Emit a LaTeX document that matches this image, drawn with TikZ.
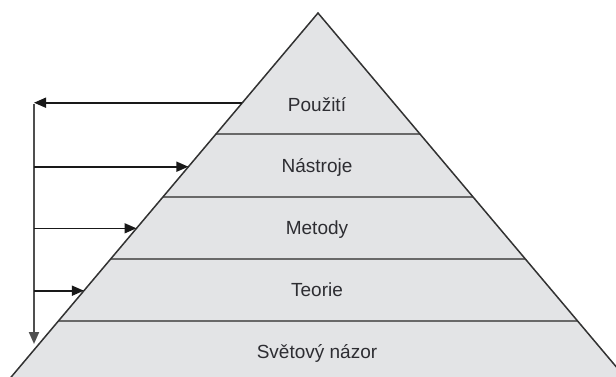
\documentclass[tikz,border=0pt]{standalone}
\usepackage{fontspec}
\setmainfont{Liberation Sans}
\usetikzlibrary{arrows.meta}
\definecolor{layerfill}{RGB}{227,228,230}
\definecolor{edgecol}{RGB}{50,50,50}
\definecolor{bandline}{RGB}{105,105,105}
\definecolor{labelcol}{RGB}{45,45,50}
\definecolor{arrowcol}{RGB}{25,25,25}
\begin{document}
\begin{tikzpicture}[x=1pt,y=-1pt,
  layerlabel/.style={font=\fontsize{19}{22}\selectfont, text=labelcol, anchor=base, inner sep=0pt},
  separator/.style={draw=bandline, line width=2.4pt},
  tip/.style={-{Triangle[length=12pt,width=10pt]}},
  flow/.style={draw=arrowcol, line width=1.6pt, tip},
  spine/.style={draw=bandline!75!black, line width=2pt, tip}]
  \useasboundingbox (0,0) rectangle (616,376);
  \clip (0,0) rectangle (616,376);

  % pyramid outline
  \coordinate (apex) at (318,13);
  \coordinate (baseL) at (-8.2,400);
  \coordinate (baseR) at (644.2,400);
  \fill[layerfill] (apex) -- (baseR) -- (baseL) -- cycle;

  % layer separators
  \draw[separator] (216.0,134) -- (420.0,134);
  \draw[separator] (162.9,197) -- (473.1,197);
  \draw[separator] (110.6,259) -- (525.4,259);
  \draw[separator] (58.4,321) -- (577.6,321);

  \draw[edgecol, line width=1.5pt, line join=miter] (baseL) -- (apex) -- (baseR);

  % layer labels
  \node[layerlabel] (pouziti)  at (317,111.7) {Použití};
  \node[layerlabel] (nastroje) at (317,172)   {Nástroje};
  \node[layerlabel] (metody)   at (317,234.5) {Metody};
  \node[layerlabel] (teorie)   at (317,296.5) {Teorie};
  \node[layerlabel] (nazor)    at (317,358)   {Světový názor};

  % feedback loop on the left
  \coordinate (outTop) at (242.4,102.7);
  \coordinate (spTop)  at (34,102.7);
  \coordinate (spBot)  at (34,344);
  \coordinate (sp1) at (34,166.7);
  \coordinate (sp2) at (34,228.3);
  \coordinate (sp3) at (34,290.7);
  \coordinate (in1) at (188.4,166.7);
  \coordinate (in2) at (136.5,228.3);
  \coordinate (in3) at (83.9,290.7);

  \draw[spine] ([yshift=-0.8pt]spTop) -- (spBot);
  \draw[flow] (outTop) -- (spTop);
  \draw[flow] (sp1) -- (in1);
  \draw[flow] (sp2) -- (in2);
  \draw[flow] (sp3) -- (in3);
\end{tikzpicture}
\end{document}
